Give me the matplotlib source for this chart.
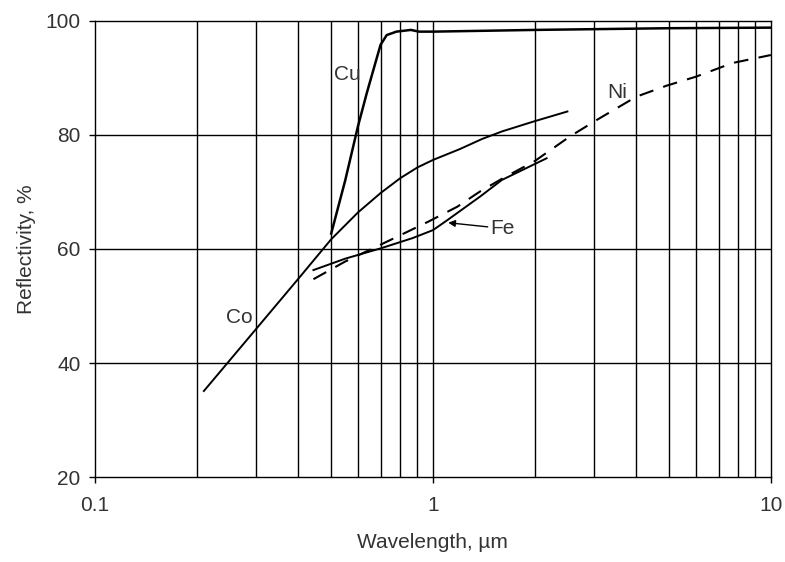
import matplotlib
matplotlib.use("Agg")
import matplotlib.pyplot as plt
from matplotlib.ticker import FixedLocator, NullFormatter

plt.rcParams['font.family'] = ['Liberation Sans', 'DejaVu Sans']

# Data (wavelength in um, reflectivity in %)
cu_wl = [0.5, 0.55, 0.6, 0.637, 0.68, 0.7, 0.73, 0.78, 0.86, 0.91, 1.0, 2.0, 5.0, 10.0]
cu_r = [62.7, 72.0, 81.5, 87.3, 93.2, 95.8, 97.5, 98.1, 98.4, 98.1, 98.1, 98.4, 98.7, 98.8]

co_wl = [0.21, 0.3, 0.4, 0.5, 0.6, 0.7, 0.8, 0.9, 1.0, 1.2, 1.4, 1.6, 2.0, 2.5]
co_r = [35.1, 46.0, 54.8, 61.7, 66.4, 69.8, 72.4, 74.3, 75.6, 77.5, 79.3, 80.6, 82.4, 84.1]

fe_wl = [0.443, 0.55, 0.7, 0.87, 1.0, 1.1, 1.18, 1.38, 1.6, 2.17]
fe_r = [56.3, 58.3, 60.1, 61.9, 63.3, 65.0, 66.3, 69.2, 72.1, 75.9]

ni_wl = [0.443, 0.55, 0.75, 0.97, 1.18, 1.38, 1.6, 2.0, 2.54, 3.05, 4.0, 4.9, 6.0, 7.7, 10.0]
ni_r = [54.7, 57.8, 61.6, 64.8, 67.4, 70.1, 72.3, 75.4, 79.7, 82.6, 86.7, 88.6, 90.2, 92.6, 94.0]

grid_x = [0.2, 0.3, 0.4, 0.5, 0.6, 0.7, 0.8, 0.9, 1, 2, 3, 4, 5, 6, 7, 8, 9]
grid_y = [40, 60, 80]

txt = '#333333'
fs = 15

fig = plt.figure(figsize=(7.85, 5.62), dpi=100)
ax = fig.add_axes([0.121, 0.151, 0.861, 0.812])

for gx in grid_x:
    ax.axvline(gx, color='black', lw=1.0, zorder=1)
for gy in grid_y:
    ax.axhline(gy, color='black', lw=1.0, zorder=1)

ax.plot(cu_wl, cu_r, color='black', lw=1.8, zorder=3)
ax.plot(co_wl, co_r, color='black', lw=1.4, zorder=3)
ax.plot(fe_wl, fe_r, color='black', lw=1.4, zorder=3)
ax.plot(ni_wl, ni_r, color='black', lw=1.5, dashes=(7, 5), zorder=3)

ax.text(0.56, 90.5, 'Cu', fontsize=fs, color=txt, ha='center', va='center')
ax.text(0.268, 47.9, 'Co', fontsize=fs, color=txt, ha='center', va='center')
ax.text(3.52, 87.5, 'Ni', fontsize=fs, color=txt, ha='center', va='center')
ax.annotate('Fe', xy=(1.11, 64.6), xytext=(1.48, 63.6), fontsize=fs, color=txt,
            ha='left', va='center',
            arrowprops=dict(arrowstyle='-|>', color='black', lw=1.0,
                            mutation_scale=10, shrinkA=0, shrinkB=0))

ax.set_xscale('log')
ax.set_xlim(0.1, 10)
ax.set_ylim(20, 100)
ax.xaxis.set_major_locator(FixedLocator([0.1, 1, 10]))
ax.xaxis.set_minor_locator(FixedLocator([]))
ax.xaxis.set_minor_formatter(NullFormatter())
ax.set_xticklabels(['0.1', '1', '10'])
ax.set_yticks([20, 40, 60, 80, 100])

ax.tick_params(axis='both', direction='out', length=4.5, width=1, color='black',
               labelsize=fs, labelcolor=txt)
ax.tick_params(axis='x', pad=9)
ax.tick_params(axis='y', pad=6)
for s in ax.spines.values():
    s.set_color('black')
    s.set_linewidth(1.0)

ax.set_xlabel('Wavelength, µm', fontsize=fs, color=txt, labelpad=13)
ax.set_ylabel('Reflectivity, %', fontsize=fs, color=txt, labelpad=7)

fig.savefig('out.png', dpi=100)
